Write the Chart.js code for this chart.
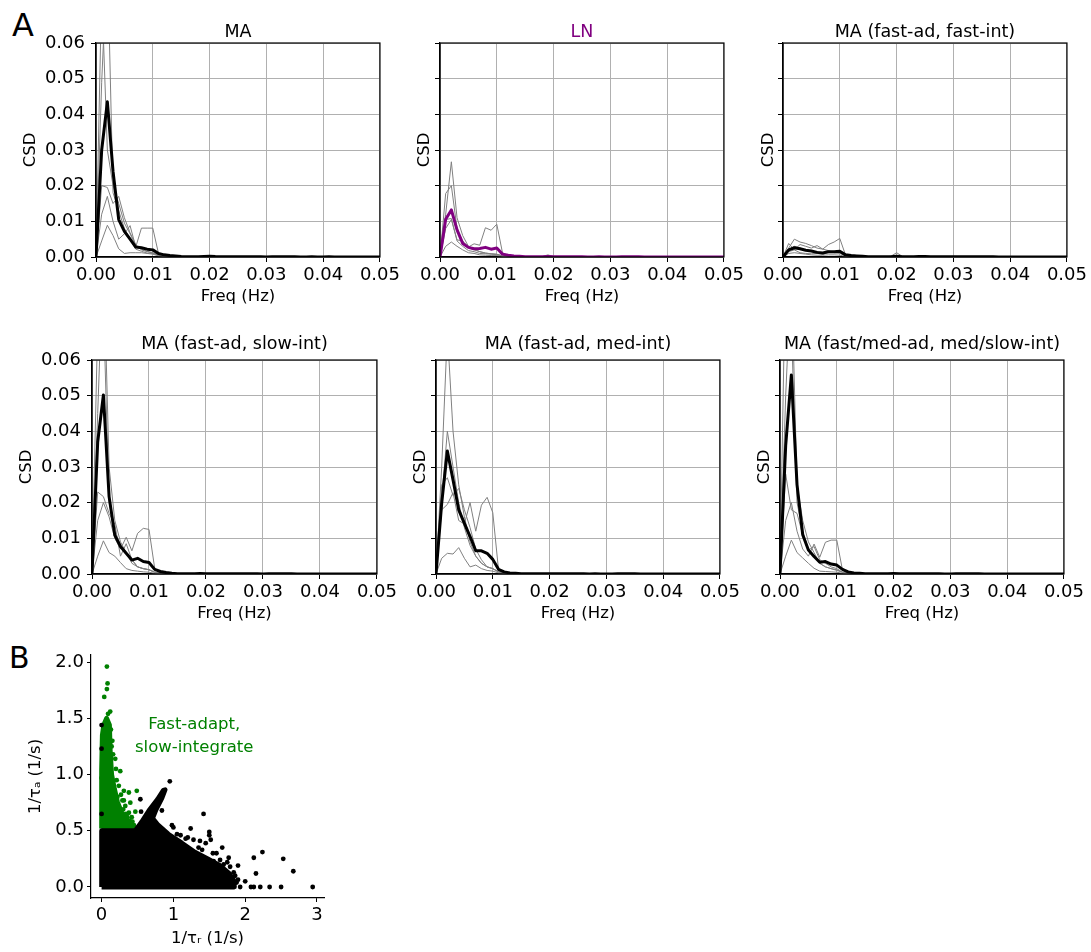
<!DOCTYPE html>
<html><head><meta charset="utf-8">
<script src="https://cdn.jsdelivr.net/npm/chart.js@4.4.1/dist/chart.umd.min.js"></script>
<style>
html,body{margin:0;padding:0;background:#fff;}
body{width:1091px;height:952px;position:relative;overflow:hidden;font-family:'DejaVu Sans',sans-serif;}
canvas{position:absolute;}
.lbl{position:absolute;font-family:'DejaVu Sans',sans-serif;color:#000;line-height:1;}
</style></head><body>
<div class="lbl" style="left:12px;top:9px;font-size:32px">A</div>
<div class="lbl" style="left:9px;top:643px;font-size:30px">B</div>
<canvas id="c1"></canvas><canvas id="c2"></canvas><canvas id="c3"></canvas>
<canvas id="c4"></canvas><canvas id="c5"></canvas><canvas id="c6"></canvas>
<canvas id="c7"></canvas>
<script>
// ---------------- DATA ----------------
const freqHz = [0.000,0.001,0.002,0.003,0.004,0.005,0.006,0.007,0.008,0.009,0.010,0.011,0.012,0.013,0.014,0.015,0.016,0.017,0.018,0.019,0.020,0.021,0.022,0.023,0.024,0.025,0.026,0.027,0.028,0.029,0.030,0.031,0.032,0.033,0.034,0.035,0.036,0.037,0.038,0.039,0.040,0.041,0.042,0.043,0.044,0.045,0.046,0.047,0.048,0.049,0.050];
const yTicksCSD = [0.00,0.01,0.02,0.03,0.04,0.05,0.06];
const xTicksFreq = [0.00,0.01,0.02,0.03,0.04,0.05];

const panelTitles = ['MA','LN','MA (fast-ad, fast-int)','MA (fast-ad, slow-int)','MA (fast-ad, med-int)','MA (fast/med-ad, med/slow-int)'];

// MA
const maMean = [0,0.0300,0.0435,0.0240,0.0105,0.0072,0.0050,0.0028,0.0026,0.0022,0.0020,0.0010,0.0006,0.0004,0.00025,0.00012,
  0.00010,0.00008,0.00010,0.00015,0.00020,0.00012,0.00008,0.00006,0.00005,0.00005,
  0.00004,0.00004,0.00005,0.00004,0.00003,0.00004,0.00004,0.00005,0.00006,0.00004,0.00003,0.00003,0.00004,0.00003,0.00003,0.00004,0.00003,0.00003,0.00003,0.00002,0.00003,0.00003,0.00002,0.00002,0.00002];
const maCell1 = [0,0.0490,0.0850,0.0180,0.0130,0.0080,0.0050,0.0022,0.0016,0.0011,0.0010,0.0005,0.0003,0.0002,0.0001,0.00005,0.00004,0.00004,0.00005,0.00010,0.00010,0.00004,0.00003,0.00003,0.00002,0.00002];
const maCell2 = [0,0.0750,0.0300,0.0200,0.0150,0.0095,0.0065,0.0032,0.0022,0.0016,0.0012,0.0006,0.0003,0.0002,0.0001,0.00005,0.00005,0.00004,0.00005,0.00010,0.00020,0.00005,0.00003,0.00003,0.00002,0.00002];
const maCell3 = [0,0.0200,0.0195,0.0150,0.0170,0.0110,0.0068,0.0035,0.0020,0.0015,0.0011,0.0005,0.0003,0.0002,0.0001,0.00005,0.00004,0.00003,0.00004,0.00010,0.00010,0.00004,0.00003,0.00003,0.00002,0.00002];
const maCell4 = [0,0.0045,0.0089,0.0060,0.0023,0.0010,0.0012,0.0012,0.0012,0.0010,0.0008,0.0003,0.0002,0.0001,0.00005,0.00003,0.00003,0.00003,0.00003,0.00005,0.00005,0.00003,0.00002,0.00002,0.00002,0.00002];
const maCell5 = [0,0.0120,0.0170,0.0100,0.0050,0.0065,0.0088,0.0028,0.0081,0.0081,0.0081,0.0010,0.0004,0.0002,0.0001,0.00005,0.00004,0.00004,0.00005,0.00010,0.00010,0.00004,0.00003,0.00003,0.00002,0.00002];

// LN
const lnMean = [0,0.0106,0.0132,0.0076,0.0038,0.0027,0.0023,0.0024,0.0027,0.0022,0.0025,0.0008,0.0005,0.0003,0.0002,0.0001,
  0.00008,0.00006,0.00008,0.00012,0.00010,0.00006,0.00005,0.00004,0.00004,0.00004,
  0.00003,0.00003,0.00004,0.00003,0.00003,0.00003,0.00004,0.00005,0.00006,0.00004,0.00003,0.00003,0.00003,0.00002,0.00002,0.00003,0.00002,0.00002,0.00002,0.00002,0.00002,0.00002,0.00002,0.00002,0.00002];
const lnCell1 = [0,0.0120,0.0267,0.0110,0.0060,0.0030,0.0022,0.0015,0.0011,0.0009,0.0008,0.0003,0.0002,0.0001,0.00005,0.00004,0.00003,0.00003,0.00003,0.00004,0.00003,0.00003,0.00002,0.00002,0.00002,0.00002];
const lnCell2 = [0,0.0178,0.0200,0.0080,0.0042,0.0026,0.0020,0.0015,0.0011,0.0009,0.0007,0.0003,0.0002,0.0001,0.00005,0.00004,0.00003,0.00003,0.00003,0.00004,0.00003,0.00003,0.00002,0.00002,0.00002,0.00002];
const lnCell3 = [0,0.0080,0.0105,0.0048,0.0045,0.0028,0.0037,0.0033,0.0082,0.0075,0.0092,0.0012,0.0004,0.0002,0.0001,0.00005,0.00004,0.00005,0.00010,0.00060,0.00010,0.00004,0.00003,0.00003,0.00002,0.00002];
const lnCell4 = [0,0.0030,0.0042,0.0030,0.0020,0.0012,0.0010,0.0006,0.0005,0.0004,0.0004,0.0002,0.0001,0.00005,0.00004,0.00003,0.00003,0.00003,0.00003,0.00004,0.00003,0.00003,0.00002,0.00002,0.00002,0.00002];
const lnCell5 = [0,0.0105,0.0108,0.0045,0.0030,0.0018,0.0015,0.0010,0.0009,0.0008,0.0007,0.0003,0.0002,0.0001,0.00005,0.00004,0.00003,0.00003,0.00003,0.00004,0.00003,0.00003,0.00002,0.00002,0.00002,0.00002];

// MA (fast-ad, fast-int)
const ffMean = [0,0.0020,0.0026,0.0023,0.0019,0.0017,0.0013,0.0011,0.0015,0.0015,0.0016,0.0006,0.0004,0.0003,0.0002,0.0001,
  0.00008,0.00006,0.00006,0.00010,0.00020,0.00010,0.00008,0.00006,0.00015,0.00012,
  0.00008,0.00006,0.00005,0.00005,0.00004,0.00004,0.00005,0.00004,0.00004,0.00005,0.00006,0.00004,0.00003,0.00003,0.00003,0.00003,0.00003,0.00002,0.00002,0.00002,0.00002,0.00002,0.00002,0.00002,0.00002];
const ffCell1 = [0,0.0025,0.0050,0.0042,0.0038,0.0032,0.0025,0.0022,0.0035,0.0042,0.0052,0.0006,0.0002,0.0001,0.00005,0.00004,0.00003,0.00003,0.00003,0.00004,0.00005,0.00003,0.00003,0.00003,0.00004,0.00003];
const ffCell2 = [0,0.0038,0.0020,0.0035,0.0030,0.0025,0.0032,0.0022,0.0018,0.0012,0.0010,0.0004,0.0002,0.0001,0.00005,0.00004,0.00003,0.00003,0.00003,0.00004,0.00004,0.00003,0.00003,0.00002,0.00002,0.00002];
const ffCell3 = [0,0.0015,0.0020,0.0012,0.0010,0.0009,0.0010,0.0008,0.0012,0.0012,0.0012,0.0003,0.0002,0.0001,0.00005,0.00004,0.00003,0.00003,0.00003,0.00004,0.00004,0.00003,0.00003,0.00002,0.00002,0.00002];
const ffCell4 = [0,0.0010,0.0012,0.0010,0.0008,0.0006,0.0005,0.0005,0.0006,0.0006,0.0005,0.0002,0.0001,0.00005,0.00004,0.00003,0.00003,0.00003,0.00004,0.0002,0.0012,0.0002,0.00005,0.00004,0.0003,0.0001];
const ffCell5 = [0,0.0020,0.0030,0.0025,0.0020,0.0015,0.0015,0.0010,0.0012,0.0015,0.0016,0.0004,0.0002,0.0001,0.00005,0.00004,0.00003,0.00003,0.00003,0.00004,0.00004,0.00003,0.00003,0.00002,0.00002,0.00002];

// MA (fast-ad, slow-int)
const fsMean = [0,0.0370,0.0502,0.0217,0.0109,0.0077,0.0058,0.0039,0.0044,0.0035,0.0032,0.0013,0.0007,0.0004,0.0002,0.0001,
  0.00008,0.00008,0.00010,0.00012,0.00010,0.00008,0.00006,0.00005,0.00005,0.00004,
  0.00004,0.00004,0.00005,0.00004,0.00003,0.00004,0.00004,0.00004,0.00005,0.00004,0.00003,0.00003,0.00003,0.00003,0.00003,0.00003,0.00003,0.00002,0.00002,0.00002,0.00002,0.00002,0.00002,0.00002,0.00002];
const fsCell1 = [0,0.0700,0.0750,0.0200,0.0120,0.0080,0.0060,0.0040,0.0020,0.0015,0.0012,0.0005,0.0003,0.0002,0.0001,0.00005,0.00004,0.00003,0.00004,0.00005,0.00004,0.00003,0.00003,0.00002,0.00002,0.00002];
const fsCell2 = [0,0.0450,0.0900,0.0300,0.0150,0.0090,0.0060,0.0030,0.0020,0.0015,0.0012,0.0005,0.0003,0.0002,0.0001,0.00005,0.00004,0.00003,0.00004,0.00005,0.00004,0.00003,0.00003,0.00002,0.00002,0.00002];
const fsCell3 = [0,0.0230,0.0217,0.0170,0.0140,0.0050,0.0085,0.0040,0.0020,0.0015,0.0012,0.0005,0.0003,0.0002,0.0001,0.00005,0.00004,0.00003,0.00004,0.00005,0.00004,0.00003,0.00003,0.00002,0.00002,0.00002];
const fsCell4 = [0,0.0050,0.0093,0.0060,0.0050,0.0032,0.0015,0.0010,0.0008,0.0006,0.0005,0.0002,0.0001,0.00005,0.00004,0.00003,0.00003,0.00003,0.00003,0.00004,0.00003,0.00003,0.00002,0.00002,0.00002,0.00002];
const fsCell5 = [0,0.0150,0.0200,0.0160,0.0100,0.0070,0.0103,0.0065,0.0114,0.0128,0.0125,0.0016,0.0005,0.0002,0.0001,0.00005,0.00004,0.00003,0.00004,0.00005,0.00004,0.00003,0.00003,0.00002,0.00002,0.00002];

// MA (fast-ad, med-int)
const fmMean = [0,0.0198,0.0345,0.0264,0.0180,0.0142,0.0105,0.0065,0.0065,0.0058,0.0041,0.0013,0.0006,0.0003,0.0002,0.0001,
  0.00008,0.00006,0.00006,0.00008,0.00008,0.00006,0.00005,0.00005,0.00004,0.00004,
  0.00004,0.00003,0.00004,0.00003,0.00003,0.00003,0.00004,0.00005,0.00007,0.00004,0.00003,0.00003,0.00003,0.00002,0.00002,0.00003,0.00002,0.00002,0.00002,0.00002,0.00002,0.00002,0.00002,0.00002,0.00002];
const fmCell1 = [0,0.0300,0.0680,0.0400,0.0250,0.0160,0.0090,0.0050,0.0030,0.0020,0.0015,0.0006,0.0003,0.0002,0.0001,0.00005,0.00004,0.00003,0.00003,0.00004,0.00004,0.00003,0.00003,0.00002,0.00002,0.00002];
const fmCell2 = [0,0.0250,0.0270,0.0220,0.0240,0.0180,0.0130,0.0070,0.0040,0.0020,0.0015,0.0006,0.0003,0.0002,0.0001,0.00005,0.00004,0.00003,0.00003,0.00004,0.00004,0.00003,0.00003,0.00002,0.00002,0.00002];
const fmCell3 = [0,0.0180,0.0195,0.0228,0.0150,0.0140,0.0200,0.0120,0.0193,0.0215,0.0172,0.0013,0.0005,0.0002,0.0001,0.00005,0.00004,0.00003,0.00003,0.00004,0.00004,0.00003,0.00003,0.00002,0.00002,0.00002];
const fmCell4 = [0,0.0044,0.0058,0.0056,0.0074,0.0044,0.0020,0.0025,0.0015,0.0010,0.0008,0.0003,0.0002,0.0001,0.00005,0.00004,0.00003,0.00003,0.00003,0.00004,0.00003,0.00003,0.00002,0.00002,0.00002,0.00002];
const fmCell5 = [0,0.0210,0.0400,0.0300,0.0200,0.0130,0.0080,0.0050,0.0030,0.0020,0.0015,0.0006,0.0003,0.0002,0.0001,0.00005,0.00004,0.00003,0.00003,0.00004,0.00004,0.00003,0.00003,0.00002,0.00002,0.00002];

// MA (fast/med-ad, med/slow-int)
const msMean = [0,0.0360,0.0558,0.0250,0.0110,0.0067,0.0049,0.0033,0.0035,0.0028,0.0025,0.0013,0.0006,0.0003,0.0002,0.0001,
  0.00008,0.00008,0.00008,0.00010,0.00012,0.00008,0.00006,0.00005,0.00005,0.00004,
  0.00004,0.00004,0.00004,0.00003,0.00003,0.00004,0.00004,0.00004,0.00005,0.00004,0.00003,0.00003,0.00003,0.00003,0.00002,0.00003,0.00002,0.00002,0.00002,0.00002,0.00002,0.00002,0.00002,0.00002,0.00002];
const msCell1 = [0,0.0900,0.0700,0.0200,0.0120,0.0070,0.0050,0.0030,0.0020,0.0015,0.0012,0.0005,0.0003,0.0002,0.0001,0.00005,0.00004,0.00003,0.00003,0.00004,0.00004,0.00003,0.00003,0.00002,0.00002,0.00002];
const msCell2 = [0,0.0500,0.0850,0.0250,0.0150,0.0090,0.0060,0.0030,0.0020,0.0015,0.0010,0.0005,0.0003,0.0002,0.0001,0.00005,0.00004,0.00003,0.00003,0.00004,0.00004,0.00003,0.00003,0.00002,0.00002,0.00002];
const msCell3 = [0,0.0280,0.0180,0.0170,0.0110,0.0067,0.0077,0.0040,0.0030,0.0020,0.0015,0.0005,0.0003,0.0002,0.0001,0.00005,0.00004,0.00003,0.00003,0.00004,0.00004,0.00003,0.00003,0.00002,0.00002,0.00002];
const msCell4 = [0,0.0050,0.0095,0.0060,0.0045,0.0030,0.0016,0.0008,0.0007,0.0006,0.0005,0.0002,0.0001,0.00005,0.00004,0.00003,0.00003,0.00003,0.00003,0.00004,0.00003,0.00003,0.00002,0.00002,0.00002,0.00002];
const msCell5 = [0,0.0150,0.0200,0.0120,0.0070,0.0050,0.0084,0.0047,0.0089,0.0095,0.0095,0.0011,0.0004,0.0002,0.0001,0.00005,0.00004,0.00003,0.00003,0.00004,0.00004,0.00003,0.00003,0.00002,0.00002,0.00002];

// Panel B scatter: 1/tau_r (x) vs 1/tau_a (y)
// dense core regions (outline of the saturated point cloud)
const blackCoreX = [0.00,0.00,0.47,0.56,0.66,0.78,0.86,0.885,0.84,0.76,0.71,0.78,0.93,1.12,1.30,1.48,1.65,1.78,1.84,1.85,0.00];
const blackCoreY = [0.00,0.50,0.50,0.58,0.68,0.78,0.86,0.865,0.79,0.69,0.61,0.555,0.47,0.39,0.31,0.25,0.19,0.12,0.06,0.00,0.00];
const greenCoreX = [0.00,0.00,0.01,0.03,0.07,0.11,0.12,0.14,0.18,0.22,0.28,0.35,0.46,0.00];
const greenCoreY = [0.52,1.05,1.35,1.44,1.50,1.44,1.22,1.00,0.87,0.76,0.66,0.58,0.52,0.52];
// sparse points
const blackX = [0.00,0.00,0.00,0.95,0.54,0.55,0.84,1.42,1.24,1.50,1.50,1.10,1.17,1.37,1.45,1.68,2.12,2.24,2.53,2.67,2.15,1.90,2.00,2.08,2.12,2.21,2.34,2.50,2.94,1.77,1.79,1.65,1.56,1.84,1.90,1.93,1.00,1.05,0.98,1.28,1.60,1.35,1.70,1.40,0.62,1.52,1.20,1.55,1.75,1.86,1.88];
const blackY = [1.44,1.23,0.65,0.94,0.78,0.67,0.68,0.65,0.52,0.49,0.46,0.46,0.43,0.41,0.39,0.35,0.26,0.31,0.25,0.14,0.12,0.065,0.05,0.00,0.00,0.00,0.00,0.00,0.00,0.26,0.18,0.24,0.23,0.13,0.19,0.00,0.53,0.47,0.55,0.42,0.30,0.35,0.20,0.33,0.58,0.42,0.44,0.30,0.22,0.10,0.04];
const greenX = [0.074,0.083,0.074,0.037,0.12,0.09,0.00,0.31,0.38,0.49,0.29,0.40,0.47,0.38,0.30,0.22,0.43,0.19,0.26,0.20,0.34,0.39,0.31,0.14,0.16,0.24,0.27,0.33,0.36,0.42,0.45,0.15,0.13,0.21];
const greenY = [1.96,1.81,1.76,1.69,1.56,1.54,0.97,0.855,0.84,0.855,0.77,0.75,0.67,0.66,0.69,0.80,0.58,1.14,1.03,1.05,0.65,0.59,0.77,1.25,1.18,0.90,0.82,0.72,0.62,0.62,0.55,1.30,1.40,0.95];
const annotText = ['Fast-adapt,','slow-integrate'];
const annotAt = {x:1.29, y:1.34};
const bXTicks = [0,1,2,3];
const bYTicks = [0.0,0.5,1.0,1.5,2.0];

// ---------------- LAYOUT / STYLE ----------------
const FONT = "'DejaVu Sans', sans-serif";
Chart.defaults.font.family = FONT;
Chart.defaults.color = '#000';
const TICK_FS = 18, LABEL_FS = 16.5, TITLE_FS = 17.5;

const panels = [
  {id:'c1', title:panelTitles[0], tcolor:'#000', mean:maMean, mcolor:'#000', cells:[maCell1,maCell2,maCell3,maCell4,maCell5], L:96, R:381, T:43, B:257, Y:76, tpb:1, labels:true},
  {id:'c2', title:panelTitles[1], tcolor:'#800080', mean:lnMean, mcolor:'#800080', cells:[lnCell1,lnCell2,lnCell3,lnCell4,lnCell5], L:440, R:725, T:43, B:257, Y:26, tpb:1, labels:false},
  {id:'c3', title:panelTitles[2], tcolor:'#000', mean:ffMean, mcolor:'#000', cells:[ffCell1,ffCell2,ffCell3,ffCell4,ffCell5], L:783, R:1068, T:43, B:257, Y:25, tpb:1, labels:false},
  {id:'c4', title:panelTitles[3], tcolor:'#000', mean:fsMean, mcolor:'#000', cells:[fsCell1,fsCell2,fsCell3,fsCell4,fsCell5], L:92, R:378, T:360, B:574, Y:76, tpb:6, labels:true},
  {id:'c5', title:panelTitles[4], tcolor:'#000', mean:fmMean, mcolor:'#000', cells:[fmCell1,fmCell2,fmCell3,fmCell4,fmCell5], L:436, R:721, T:360, B:574, Y:26, tpb:6, labels:false},
  {id:'c6', title:panelTitles[5], tcolor:'#000', mean:msMean, mcolor:'#000', cells:[msCell1,msCell2,msCell3,msCell4,msCell5], L:780, R:1065, T:360, B:574, Y:26, tpb:6, labels:false},
];
const RIGHT_PAD = 22, XAX_H = 50, TITLE_LH = 20;

const framePlugin = {
  id:'frame',
  afterDatasetsDraw(chart){
    const {ctx, chartArea:a} = chart;
    ctx.save(); ctx.strokeStyle='#000'; ctx.lineWidth=1.2;
    ctx.strokeRect(a.left, a.top, a.right-a.left, a.bottom-a.top);
    ctx.restore();
  }
};

function toXY(ys){ return ys.map((y,i)=>({x:freqHz[i], y:y})); }

function placeCanvas(cv, left, top, w, h){
  cv.width = w; cv.height = h;
  cv.style.left = left+'px'; cv.style.top = top+'px';
  cv.style.width = w+'px'; cv.style.height = h+'px';
}

panels.forEach(p=>{
  const cv = document.getElementById(p.id);
  const left = p.L - p.Y, top = p.T - TITLE_LH - p.tpb;
  placeCanvas(cv, left, top, p.R + RIGHT_PAD - left, p.B + XAX_H - top);
  const lineBase = {pointRadius:0, tension:0, fill:false, borderJoinStyle:'round', borderCapStyle:'round'};
  const datasets = [Object.assign({data:toXY(p.mean), borderColor:p.mcolor, borderWidth:3, order:0}, lineBase)];
  p.cells.forEach(c=>datasets.push(Object.assign({data:toXY(c), borderColor:'#808080', borderWidth:1, order:1}, lineBase)));
  new Chart(cv, {
    type:'line',
    data:{datasets},
    options:{
      responsive:false, animation:false, devicePixelRatio:1, events:[],
      layout:{padding:{left:0, right:RIGHT_PAD, top:0, bottom:0}},
      plugins:{
        legend:{display:false}, tooltip:{enabled:false},
        title:{display:true, fullSize:false, text:p.title, color:p.tcolor, font:{size:TITLE_FS, weight:'normal', lineHeight:TITLE_LH+'px'}, padding:{top:0, bottom:p.tpb}}
      },
      scales:{
        x:{type:'linear', min:xTicksFreq[0], max:xTicksFreq[xTicksFreq.length-1],
           afterBuildTicks:(s)=>{ s.ticks = xTicksFreq.map(v=>({value:v})); },
           ticks:{autoSkip:false, maxRotation:0, padding:3, color:'#000', font:{size:TICK_FS}, callback:v=>Number(v).toFixed(2)},
           grid:{color:'#b0b0b0', lineWidth:1, tickColor:'#000', tickLength:5, tickWidth:1},
           border:{display:true, color:'#000', width:1.2},
           title:{display:true, text:'Freq (Hz)', color:'#000', font:{size:LABEL_FS}, padding:{top:0, bottom:0}},
           afterFit:(s)=>{ s.height = XAX_H; }},
        y:{min:yTicksCSD[0], max:yTicksCSD[yTicksCSD.length-1],
           afterBuildTicks:(s)=>{ s.ticks = yTicksCSD.map(v=>({value:v})); },
           ticks:{autoSkip:false, padding:6, color:'#000', font:{size:TICK_FS}, callback:v=> p.labels ? Number(v).toFixed(2) : ''},
           grid:{color:'#b0b0b0', lineWidth:1, tickColor:'#000', tickLength:5, tickWidth:1},
           border:{display:true, color:'#000', width:1.2},
           title:{display:true, text:'CSD', color:'#000', font:{size:LABEL_FS}, padding:{top:1, bottom:0}},
           afterFit:(s)=>{ s.width = p.Y; }}
      }
    },
    plugins:[framePlugin]
  });
});

// ---------------- Panel B ----------------
const annotPlugin = {
  id:'annot',
  afterDatasetsDraw(chart){
    const {ctx, scales:{x, y}} = chart;
    const px = x.getPixelForValue(annotAt.x), py = y.getPixelForValue(annotAt.y);
    ctx.save();
    ctx.fillStyle = '#008000'; ctx.font = LABEL_FS + "px 'DejaVu Sans'";
    ctx.textAlign = 'center'; ctx.textBaseline = 'middle';
    annotText.forEach((t,i)=>ctx.fillText(t, px, py + (i - (annotText.length-1)/2)*23));
    ctx.restore();
  }
};
const pts = (xs, ys)=> xs.map((v,i)=>({x:v, y:ys[i]}));
{
  const cv = document.getElementById('c7');
  placeCanvas(cv, 15, 640, 319, 309);
  new Chart(cv, {
    type:'scatter',
    data:{datasets:[
      {type:'scatter', data:pts(blackX, blackY), backgroundColor:'#000', borderWidth:0, pointRadius:2.4, order:0},
      {type:'line', data:pts(blackCoreX, blackCoreY), borderColor:'#000', backgroundColor:'#000', borderWidth:4.8, fill:'shape', pointRadius:0, tension:0, borderJoinStyle:'round', order:1},
      {type:'scatter', data:pts(greenX, greenY), backgroundColor:'#008000', borderWidth:0, pointRadius:2.4, order:2},
      {type:'line', data:pts(greenCoreX, greenCoreY), borderColor:'#008000', backgroundColor:'#008000', borderWidth:4.8, fill:'shape', pointRadius:0, tension:0, borderJoinStyle:'round', order:3}
    ]},
    options:{
      responsive:false, animation:false, devicePixelRatio:1, events:[],
      layout:{padding:{left:0, right:10, top:15, bottom:0}},
      plugins:{legend:{display:false}, tooltip:{enabled:false}},
      scales:{
        x:{type:'linear', min:-0.1475, max:3.0975,
           afterBuildTicks:(s)=>{ s.ticks = bXTicks.map(v=>({value:v})); },
           ticks:{autoSkip:false, maxRotation:0, padding:3, color:'#000', font:{size:TICK_FS}, callback:v=>String(Math.round(v))},
           grid:{drawOnChartArea:false, tickColor:'#000', tickLength:4, tickWidth:1},
           border:{display:true, color:'#000', width:1.2},
           title:{display:true, text:'1/τᵣ (1/s)', color:'#000', font:{size:LABEL_FS}, padding:{top:0, bottom:0}},
           afterFit:(s)=>{ s.height = 51; }},
        y:{type:'linear', min:-0.098, max:2.063,
           afterBuildTicks:(s)=>{ s.ticks = bYTicks.map(v=>({value:v})); },
           ticks:{autoSkip:false, padding:3, color:'#000', font:{size:TICK_FS}, callback:v=>Number(v).toFixed(1)},
           grid:{drawOnChartArea:false, tickColor:'#000', tickLength:4, tickWidth:1},
           border:{display:true, color:'#000', width:1.2},
           title:{display:true, text:'1/τₐ (1/s)', color:'#000', font:{size:LABEL_FS}, padding:{top:11, bottom:0}},
           afterFit:(s)=>{ s.width = 76; }}
      }
    },
    plugins:[annotPlugin]
  });
}
</script>
</body></html>
